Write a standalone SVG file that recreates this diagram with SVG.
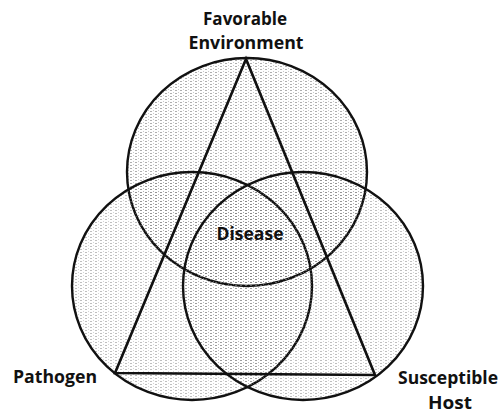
<svg xmlns="http://www.w3.org/2000/svg" width="500" height="413" viewBox="0 0 500 413">
  <style>
    .ring { fill: url(#stipple); stroke: #111; stroke-width: 2.4; }
    .edge { fill: none; stroke: #111; stroke-width: 2.6; stroke-linejoin: miter; }
    .lbl { font-family: "Open Sans", "Liberation Sans", sans-serif; font-weight: 700; font-size: 17px; fill: #111; text-anchor: middle; }
  </style>
  <defs>
    <!-- fine halftone-like stipple for the circle fills -->
    <pattern id="stipple" width="5" height="3" patternUnits="userSpaceOnUse">
      <rect x="0" y="0" width="2" height="1" fill="#7a7a7a" fill-opacity="0.6"/>
      <rect x="3" y="2" width="1" height="1" fill="#8a8a8a" fill-opacity="0.45"/>
    </pattern>
  </defs>

  <rect width="500" height="413" fill="#ffffff"/>

  <g id="environment">
    <ellipse class="ring" cx="247" cy="172" rx="120" ry="114"/>
    <text class="lbl" x="245" y="25" textLength="84" lengthAdjust="spacingAndGlyphs">Favorable</text>
    <text class="lbl" x="246" y="49" textLength="115" lengthAdjust="spacingAndGlyphs">Environment</text>
  </g>

  <g id="pathogen">
    <ellipse class="ring" cx="192" cy="286" rx="120" ry="114" fill-opacity="0.8"/>
    <text class="lbl" x="55" y="383" textLength="84" lengthAdjust="spacingAndGlyphs">Pathogen</text>
  </g>

  <g id="host">
    <ellipse class="ring" cx="303" cy="286" rx="120" ry="114" fill-opacity="0.8"/>
    <text class="lbl" x="448" y="384" textLength="100" lengthAdjust="spacingAndGlyphs">Susceptible</text>
    <text class="lbl" x="450" y="409" textLength="44" lengthAdjust="spacingAndGlyphs">Host</text>
  </g>

  <g id="connectors">
    <polygon class="edge" points="246,59 115,373 375,375"/>
  </g>

  <g id="disease">
    <text class="lbl" x="250" y="240" textLength="67" lengthAdjust="spacingAndGlyphs">Disease</text>
  </g>
</svg>
